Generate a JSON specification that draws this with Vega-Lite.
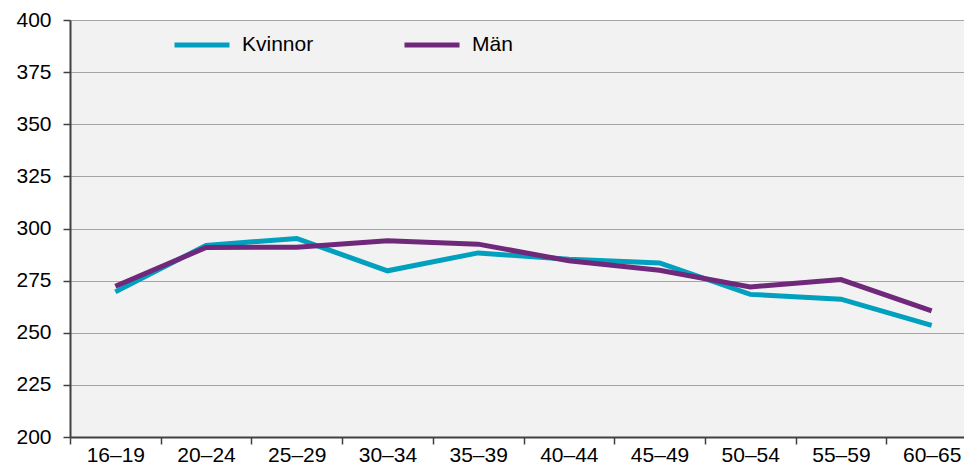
{
  "$schema": "https://vega.github.io/schema/vega-lite/v6.json",
  "autosize": {"type": "none"},
  "width": 907,
  "height": 417,
  "padding": {"left": 70, "top": 20, "right": 0, "bottom": 27},
  "background": "#ffffff",
  "config": {
    "font": "Liberation Sans",
    "view": {"fill": "#F2F2F2", "stroke": null},
    "axis": {"labelFont": "Liberation Sans", "labelFontSize": 21, "labelColor": "#000000", "domainColor": "#404040", "domainWidth": 2, "tickColor": "#404040", "tickWidth": 1.5, "tickSize": 7}
  },
  "data": {
    "values": [
      {"age": "16–19", "sex": "Kvinnor", "v": 269.6},
      {"age": "20–24", "sex": "Kvinnor", "v": 291.9},
      {"age": "25–29", "sex": "Kvinnor", "v": 295.2},
      {"age": "30–34", "sex": "Kvinnor", "v": 279.7},
      {"age": "35–39", "sex": "Kvinnor", "v": 288.3},
      {"age": "40–44", "sex": "Kvinnor", "v": 285.2},
      {"age": "45–49", "sex": "Kvinnor", "v": 283.5},
      {"age": "50–54", "sex": "Kvinnor", "v": 268.4},
      {"age": "55–59", "sex": "Kvinnor", "v": 266.1},
      {"age": "60–65", "sex": "Kvinnor", "v": 253.5},
      {"age": "16–19", "sex": "Män", "v": 272.3},
      {"age": "20–24", "sex": "Män", "v": 290.9},
      {"age": "25–29", "sex": "Män", "v": 291.0},
      {"age": "30–34", "sex": "Män", "v": 294.1},
      {"age": "35–39", "sex": "Män", "v": 292.5},
      {"age": "40–44", "sex": "Män", "v": 284.5},
      {"age": "45–49", "sex": "Män", "v": 280.0},
      {"age": "50–54", "sex": "Män", "v": 272.0},
      {"age": "55–59", "sex": "Män", "v": 275.5},
      {"age": "60–65", "sex": "Män", "v": 260.5}
    ]
  },
  "mark": {"type": "line", "strokeWidth": 5, "strokeJoin": "miter", "strokeCap": "butt"},
  "encoding": {
    "x": {
      "field": "age", "type": "ordinal", "sort": null,
      "scale": {"type": "band", "paddingInner": 0, "paddingOuter": 0},
      "axis": {"title": null, "labelAngle": 0, "labelPadding": 0, "grid": false, "tickBand": "extent"}
    },
    "y": {
      "field": "v", "type": "quantitative",
      "scale": {"domain": [200, 400], "nice": false, "zero": false},
      "axis": {"title": null, "values": [200, 225, 250, 275, 300, 325, 350, 375, 400], "gridColor": "#A6A6A6", "gridWidth": 1.2, "labelPadding": 12}
    },
    "color": {
      "field": "sex", "type": "nominal",
      "scale": {"domain": ["Kvinnor", "Män"], "range": ["#00A0BE", "#70287A"]},
      "legend": {
        "title": null, "orient": "none", "direction": "horizontal",
        "legendX": 102, "legendY": -5,
        "symbolType": "stroke", "symbolSize": 3025, "symbolStrokeWidth": 5,
        "labelFontSize": 21, "labelColor": "#000000", "labelFont": "Liberation Sans",
        "labelOffset": 10, "columnPadding": 80, "padding": 0
      }
    }
  }
}
